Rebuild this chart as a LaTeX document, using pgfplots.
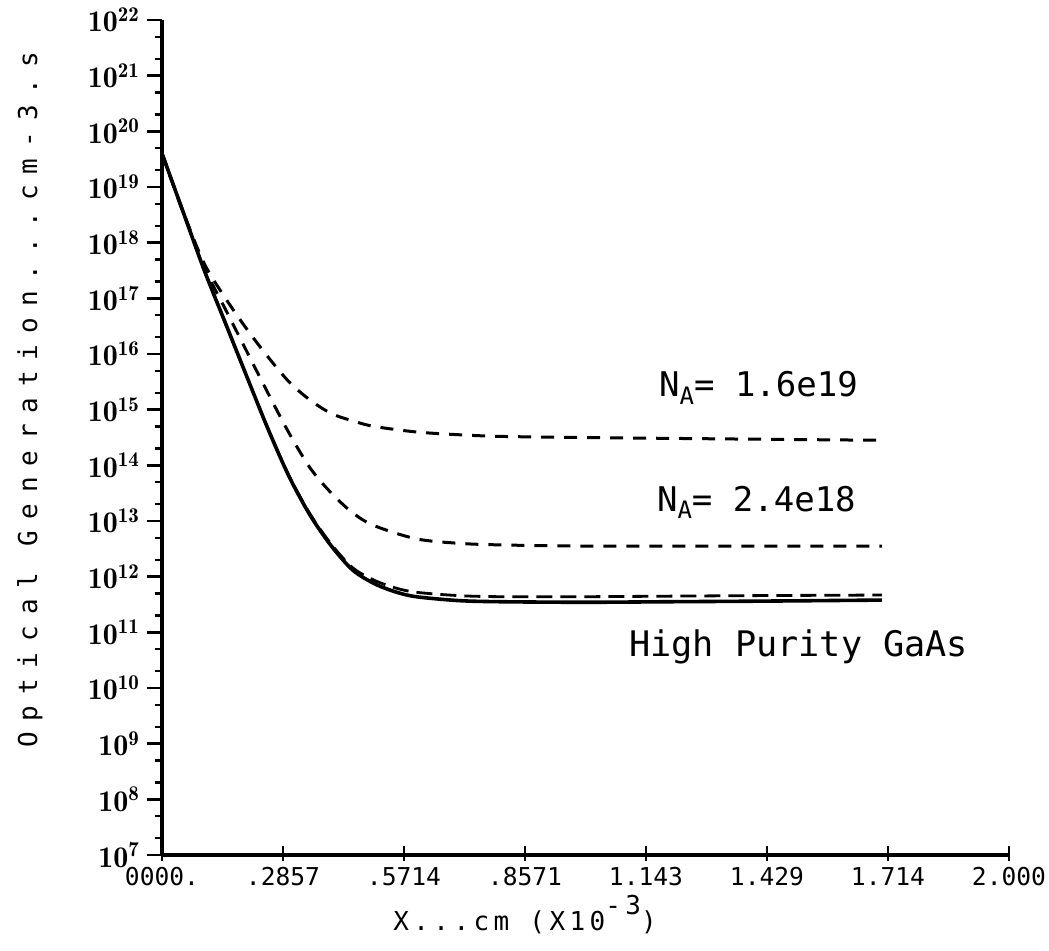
\documentclass[border=0pt]{standalone}
\usepackage{fontspec}
\usepackage{pgfplots}
\pgfplotsset{compat=1.18}
\usetikzlibrary{calc}
\newfontfamily\plotfont{DejaVu Sans Mono}
\newfontfamily\ylabfont[LetterSpace=42]{DejaVu Sans Mono}
\newfontfamily\xlabfont[LetterSpace=17]{DejaVu Sans Mono}

% values, stored as plain numbers
\pgfplotstableread{
x      y
0      4.0e19
0.05   3.55e18
0.10   3.16e17
0.15   3.55e16
0.20   3.98e15
0.25   4.57e14
0.30   6.31e13
0.35   1.26e13
0.40   3.55e12
0.45   1.32e12
0.50   7.59e11
0.55   5.37e11
0.60   4.37e11
0.70   3.72e11
0.80   3.55e11
1.00   3.47e11
1.20   3.55e11
1.40   3.63e11
1.70   3.80e11
}\purity

\pgfplotstableread{
x      y
0      4.0e19
0.05   3.55e18
0.10   3.16e17
0.15   3.55e16
0.20   3.98e15
0.25   4.57e14
0.30   6.46e13
0.35   1.32e13
0.40   3.80e12
0.45   1.45e12
0.50   8.71e11
0.55   6.31e11
0.60   5.25e11
0.70   4.57e11
0.80   4.37e11
1.00   4.37e11
1.20   4.47e11
1.40   4.57e11
1.70   4.68e11
}\lowdop

\pgfplotstableread{
x      y
0      4.0e19
0.05   3.55e18
0.10   3.55e17
0.15   6.31e16
0.20   1.12e16
0.25   2.0e15
0.30   3.80e14
0.35   8.91e13
0.40   3.16e13
0.45   1.41e13
0.50   8.32e12
0.60   4.79e12
0.70   3.98e12
0.80   3.72e12
1.00   3.55e12
1.40   3.55e12
1.70   3.55e12
}\midA

\pgfplotstableread{
x      y
0      4.0e19
0.05   3.55e18
0.10   4.17e17
0.15   1.0e17
0.20   2.82e16
0.25   8.91e15
0.30   3.16e15
0.35   1.48e15
0.40   8.51e14
0.45   6.31e14
0.50   5.01e14
0.60   3.98e14
0.70   3.55e14
0.80   3.31e14
1.00   3.16e14
1.40   2.95e14
1.70   2.82e14
}\highA

\begin{document}
\begin{tikzpicture}
\begin{axis}[
    name=ax, at={(0,0)}, anchor=south west,
    scale only axis, width=423.5pt, height=417.5pt,
    ymode=log, xmin=0, xmax=2, ymin=1e7, ymax=1e22,
    axis lines*=left,
    axis line style={line width=1.6pt, -},
    xtick={0,0.2857,0.5714,0.8571,1.1429,1.4286,1.7143,2},
    xticklabels={0000.,.2857,.5714,.8571,1.143,1.429,1.714,2.000},
    ytick={1e7,1e8,1e9,1e10,1e11,1e12,1e13,1e14,1e15,1e16,1e17,1e18,1e19,1e20,1e21,1e22},
    yticklabels={$\mathbf{10^{7}}$,$\mathbf{10^{8}}$,$\mathbf{10^{9}}$,$\mathbf{10^{10}}$,
      $\mathbf{10^{11}}$,$\mathbf{10^{12}}$,$\mathbf{10^{13}}$,$\mathbf{10^{14}}$,
      $\mathbf{10^{15}}$,$\mathbf{10^{16}}$,$\mathbf{10^{17}}$,$\mathbf{10^{18}}$,
      $\mathbf{10^{19}}$,$\mathbf{10^{20}}$,$\mathbf{10^{21}}$,$\mathbf{10^{22}}$},
    minor ytick={2e7,5e7,2e8,5e8,2e9,5e9,2e10,5e10,2e11,5e11,2e12,5e12,2e13,5e13,
      2e14,5e14,2e15,5e15,2e16,5e16,2e17,5e17,2e18,5e18,2e19,5e19,2e20,5e20,2e21,5e21},
    tick align=outside,
    major tick length=7.5pt, minor tick length=3.5pt,
    every tick/.style={black, line width=1.2pt},
    xtick style={yshift=4.5pt},
    xticklabel style={font=\fontsize{12.3}{14}\plotfont, yshift=5pt},
    yticklabel style={font=\fontsize{15}{17}\selectfont},
    clip=false,
]
  \addplot[black, line width=1.5pt, dash pattern=on 6.5pt off 5pt, smooth] table {\highA};
  \addplot[black, line width=1.5pt, dash pattern=on 6.5pt off 5pt, smooth] table {\midA};
  \addplot[black, line width=1.4pt, dash pattern=on 8pt off 4pt, smooth] table {\lowdop};
  \addplot[black, line width=1.8pt, smooth] table {\purity};

  \node[anchor=base west, inner sep=0pt, font=\fontsize{17}{19}\plotfont] at (axis cs:1.173,1.7e15)
    {N\raisebox{-0.4ex}{\fontsize{12}{14}\selectfont A}= 1.6e19};
  \node[anchor=base west, inner sep=0pt, font=\fontsize{17}{19}\plotfont] at (axis cs:1.168,1.48e13)
    {N\raisebox{-0.4ex}{\fontsize{12}{14}\selectfont A}= 2.4e18};
  \node[anchor=base west, inner sep=0pt, font=\fontsize{17.6}{19}\plotfont] at (axis cs:1.102,3.75e10)
    {High Purity GaAs};

  \node[rotate=90, anchor=center, font=\fontsize{13}{15}\ylabfont]
    at ([xshift=-66pt]rel axis cs:0,0.545) {Optical Generation...cm-3.s};
  \node[anchor=base, font=\fontsize{13}{15}\xlabfont]
    at ([yshift=-37.5pt]rel axis cs:0.4286,0) {X...cm (X10\raisebox{1.1ex}{-3})};
\end{axis}
\pgfresetboundingbox
\path[use as bounding box] ($(ax.south west)+(-81pt,-47.5pt)$) rectangle ($(ax.north east)+(20pt,10pt)$);
\end{tikzpicture}
\end{document}
